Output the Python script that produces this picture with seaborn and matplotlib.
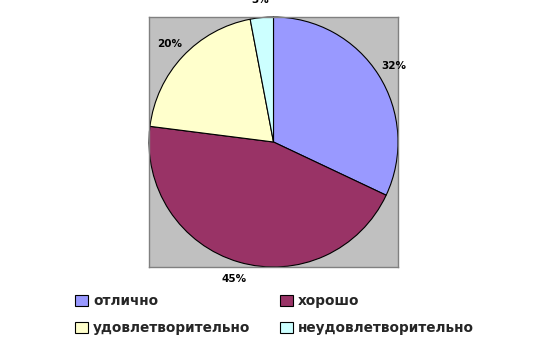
import matplotlib
matplotlib.use("Agg")
import matplotlib.pyplot as plt
import seaborn as sns
from matplotlib.patches import Patch

categories = ["отлично", "хорошо", "удовлетворительно", "неудовлетворительно"]
values = [32, 45, 20, 3]
colors = ["#9999FF", "#993366", "#FFFFCC", "#CCFFFF"]

sns.set_theme(style="white")
plt.rcParams['font.family'] = ['DejaVu Sans']

fig = plt.figure(figsize=(5.51, 3.47), dpi=100)
fig.patch.set_facecolor("white")
ax = fig.add_axes([149/551, 1-267/347, 249/551, 250/347])
ax.set_facecolor("#C0C0C0")

wedges, texts = ax.pie(values, colors=colors, startangle=90, counterclock=False,
                       wedgeprops=dict(edgecolor="black", linewidth=0.8),
                       autopct=lambda p: f"{p:.0f}%", pctdistance=1.14,
                       textprops=dict(fontsize=7.5, fontweight="bold", color="black"),
                       radius=1.0, frame=True)[:2]
ax.set_xlim(-1.0, 1.0)
ax.set_ylim(-1.0, 1.0)
ax.set_aspect('auto')
ax.set_xticks([]); ax.set_yticks([])
for s in ax.spines.values():
    s.set_visible(True)
    s.set_color("#808080")
    s.set_linewidth(1)
for t in ax.texts:
    t.set_clip_on(False)

handles = [Patch(facecolor=c, edgecolor="black", linewidth=0.8) for c in colors]
order = [0, 2, 1, 3]
leg = fig.legend([handles[i] for i in order], [categories[i] for i in order],
                 ncol=2, loc="upper left", bbox_to_anchor=(63/551, 1-282/347),
                 frameon=False, prop=dict(size=9.8, weight="bold"),
                 handlelength=0.9, handleheight=0.9, handletextpad=0.4,
                 columnspacing=2.2, labelspacing=0.95)

fig.savefig("out.png", dpi=100)
